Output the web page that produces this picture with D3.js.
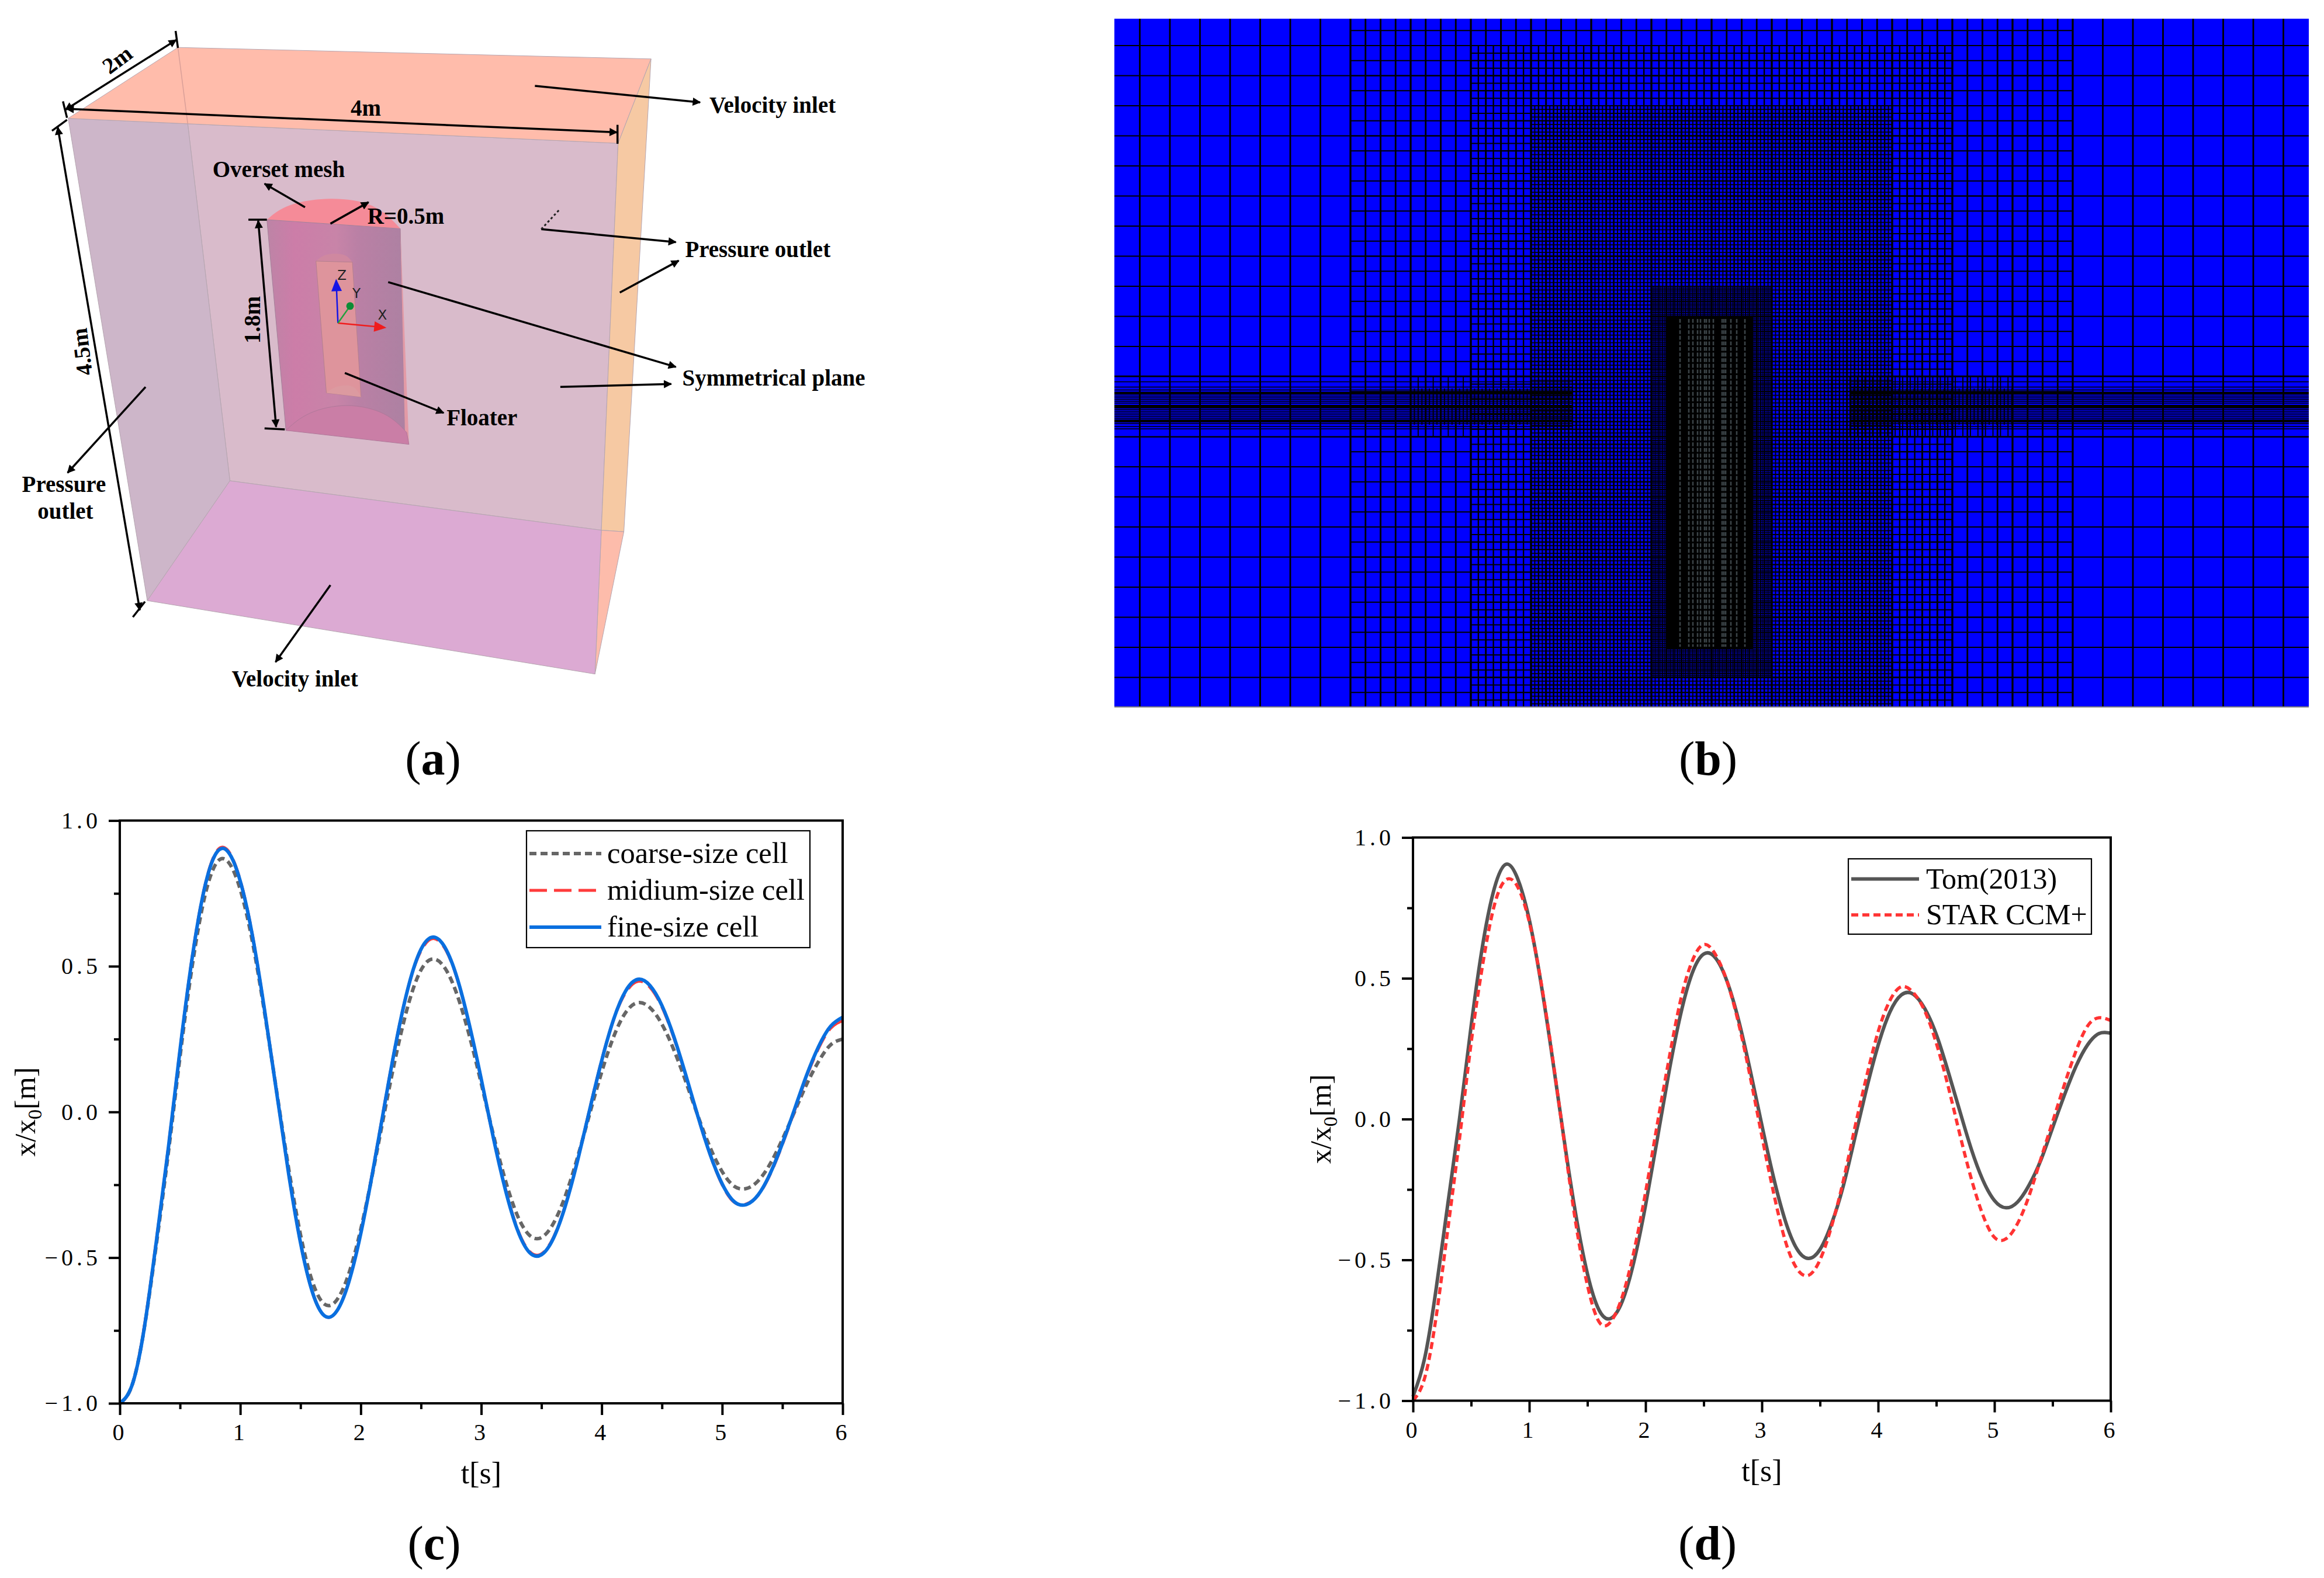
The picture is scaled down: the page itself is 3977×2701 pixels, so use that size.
<!DOCTYPE html>
<html lang="en">
<head>
<meta charset="UTF-8">
<title>Floater free decay: domain, mesh and validation</title>
<script src="https://d3js.org/d3.v7.min.js"></script>
<style>
  html, body { margin: 0; padding: 0; background: #fff; }
  svg { display: block; }
  text { font-family: "Liberation Serif", serif; fill: #000; }
</style>
</head>
<body>
<script>
// time grid shared by all the curves
const times = [0,0.1,0.2,0.3,0.4,0.5,0.6,0.7,0.8,0.9,1,1.1,1.2,1.3,1.4,1.5,1.6,1.7,1.8,1.9,2,2.1,2.2,2.3,2.4,2.5,2.6,2.7,2.8,2.9,3,3.1,3.2,3.3,3.4,3.5,3.6,3.7,3.8,3.9,4,4.1,4.2,4.3,4.4,4.5,4.6,4.7,4.8,4.9,5,5.1,5.2,5.3,5.4,5.5,5.6,5.7,5.8,5.9,6];

// panel (c)
const coarseCell = [-1,-0.94,-0.75,-0.465,-0.15,0.19,0.498,0.73,0.853,0.858,0.763,0.586,0.345,0.076,-0.19,-0.421,-0.584,-0.66,-0.646,-0.556,-0.403,-0.208,0.005,0.208,0.376,0.487,0.525,0.493,0.402,0.264,0.098,-0.077,-0.234,-0.355,-0.423,-0.431,-0.382,-0.286,-0.155,-0.007,0.137,0.259,0.342,0.375,0.358,0.301,0.212,0.102,-0.015,-0.122,-0.205,-0.255,-0.263,-0.236,-0.177,-0.094,0,0.094,0.173,0.23,0.25];
const mediumCell = [-1,-0.94,-0.745,-0.45,-0.13,0.215,0.53,0.765,0.892,0.896,0.795,0.61,0.355,0.074,-0.207,-0.449,-0.62,-0.7,-0.684,-0.583,-0.415,-0.2,0.032,0.255,0.437,0.553,0.595,0.56,0.458,0.3,0.112,-0.087,-0.262,-0.4,-0.478,-0.487,-0.43,-0.318,-0.165,0.01,0.178,0.318,0.41,0.448,0.428,0.36,0.253,0.122,-0.018,-0.147,-0.25,-0.31,-0.316,-0.285,-0.213,-0.112,0.003,0.12,0.218,0.287,0.313];
const fineCell = [-1,-0.94,-0.75,-0.455,-0.134,0.213,0.526,0.762,0.888,0.892,0.792,0.607,0.354,0.072,-0.208,-0.449,-0.62,-0.7,-0.684,-0.585,-0.418,-0.204,0.029,0.253,0.437,0.558,0.6,0.564,0.46,0.302,0.113,-0.087,-0.266,-0.404,-0.482,-0.49,-0.433,-0.32,-0.167,0.007,0.176,0.319,0.416,0.455,0.434,0.365,0.257,0.124,-0.017,-0.146,-0.247,-0.308,-0.318,-0.284,-0.21,-0.108,0.008,0.125,0.224,0.294,0.325];

// panel (d)
const tom2013 = [-0.985,-0.85,-0.6,-0.3,0,0.33,0.62,0.82,0.905,0.854,0.708,0.485,0.214,-0.074,-0.339,-0.549,-0.678,-0.708,-0.647,-0.506,-0.306,-0.073,0.164,0.369,0.517,0.586,0.573,0.49,0.351,0.173,-0.021,-0.206,-0.359,-0.46,-0.495,-0.463,-0.371,-0.238,-0.066,0.107,0.262,0.379,0.441,0.444,0.393,0.301,0.172,0.032,-0.105,-0.216,-0.289,-0.315,-0.294,-0.233,-0.145,-0.031,0.083,0.186,0.263,0.304,0.305];
const starCcm = [-1,-0.92,-0.7,-0.39,-0.07,0.27,0.55,0.76,0.85,0.825,0.7,0.49,0.22,-0.08,-0.37,-0.59,-0.72,-0.72,-0.63,-0.47,-0.26,-0.02,0.21,0.42,0.56,0.62,0.585,0.49,0.34,0.15,-0.06,-0.26,-0.43,-0.53,-0.555,-0.5,-0.38,-0.22,-0.03,0.15,0.31,0.42,0.47,0.45,0.385,0.27,0.12,-0.05,-0.21,-0.34,-0.42,-0.425,-0.37,-0.27,-0.14,-0.01,0.12,0.24,0.33,0.36,0.35];

// axis ticks
const xMajorTicks = [0,1,2,3,4,5,6];
const xMinorTicks = [0.5,1.5,2.5,3.5,4.5,5.5];
const yMajorTicks = [-1,-0.5,0,0.5,1];
const yMinorTicks = [-0.75,-0.25,0.25,0.75];
const yTickLabels = ["\u22121.0","\u22120.5","0.0","0.5","1.0"];

// panel (a) geometry, in schematic units
const topFace = [[118,237],[308,95],[1127,118],[1070,287]];
const rightFace = [[1070,287],[1127,118],[1080,1065],[1041,1062]];
const rightFaceLow = [[1041,1062],[1080,1065],[1030,1350]];
const leftFace = [[118,237],[325,248],[398,963],[255,1203]];
const backFace = [[325,248],[1070,287],[1041,1062],[398,963]];
const floorFace = [[398,963],[1041,1062],[1030,1350],[255,1203]];
const arrowSegments = [
  [113,220,305,80,1],[115,218,1068,265,1],[100,255,242,1222,1],[447,442,478,855,1],
  [572,448,638,405,0],[528,415,458,368,0],[926,172,1212,205,0],[937,459,1170,485,0],
  [1073,586,1175,522,0],[672,565,1170,735,0],[970,775,1162,769,0],[597,747,768,827,0],
  [252,775,117,947,0],[572,1172,477,1326,0]
];
const endBars = [[304,62,308,96],[109,203,116,236],[1069,250,1069,288],[90,262,116,240],[230,1236,251,1205],[430,440,462,440],[458,858,493,860]];
const diagramLabels = [
  ["Velocity inlet",1228,226,0],["4m",607,232,0],["Overset mesh",368,355,0],["R=0.5m",636,448,0],
  ["Pressure outlet",1186,515,0],["Symmetrical plane",1181,772,0],["Floater",773,852,0],
  ["Velocity inlet",401,1375,0],["Pressure",38,985,0],["outlet",65,1039,0],
  ["2m",190,150,-37],["1.8m",450,688,-90],["4.5m",160,750,-97]
];

// panel (b) refinement zones: half width, top, bottom in coarse cells, divisions per cell
const meshZones = [
  [20,-13,10,1],
  [12,-13,10,2],
  [8,-12,10,4],
  [6,-10,10,8],
  [2,-4,9,16]
];
const meshCoreColumns = [175,190,197,205,210,217,220,225,232,247,250,253,262,272,286];
// free surface band, offsets from the water line
const bandLines = [-52.5,-42.5,-33.5,-28.5,-18,-15,-12,-9,-6,5,8,11,14,17,20,29,34,38,52];
const bandBars = [[-25.5,-20.5],[-3,3],[22,27]];

const width = 3977, height = 2701;
const svg = d3.select("body").append("svg").attr("width", width).attr("height", height)
  .attr("viewBox", `0 0 ${width} ${height}`);

const defs = svg.append("defs");
defs.append("marker").attr("id", "head").attr("viewBox", "0 0 10 10").attr("refX", 9).attr("refY", 5)
  .attr("markerUnits", "userSpaceOnUse").attr("markerWidth", 17).attr("markerHeight", 14).attr("orient", "auto-start-reverse")
  .append("path").attr("d", "M0,0L10,5L0,10Z").attr("fill", "#000");

// ---------- panel (a) ----------
const sx = d3.scaleLinear().domain([0, 1568]).range([0, 1550]);
const sy = d3.scaleLinear().domain([0, 1568]).range([0, 1340]);
const pts = p => p.map(d => `${sx(d[0])},${sy(d[1])}`).join(" ");
const a = svg.append("g");

function face(p, fill) {
  a.append("polygon").attr("points", pts(p)).attr("fill", fill).attr("stroke", "#b5a5b0").attr("stroke-width", 1);
}
face(backFace, "#d9bbcb");
face(leftFace, "#cdb6c9");
face(topFace, "#ffbcab");
face(rightFace, "#f6c9a3");
face(rightFaceLow, "#fdbcab");
face(floorFace, "#dcaad3");
a.append("line").attr("x1", sx(308)).attr("y1", sy(95)).attr("x2", sx(325)).attr("y2", sy(248)).attr("stroke", "#d99f98").attr("stroke-width", 1.5);

const bodyGrad = defs.append("linearGradient").attr("id", "bodyGrad");
[[0, "#bd84a6"], [0.2, "#cc7da8"], [0.5, "#c884a8"], [0.66, "#ba80a5"], [1, "#ad81a2"]]
  .forEach(s => bodyGrad.append("stop").attr("offset", s[0]).attr("stop-color", s[1]));

const arcLine = d3.line().x(d => sx(d[0])).y(d => sy(d[1])).curve(d3.curveBasis);
// overset cylinder
a.append("path").attr("fill", "#f58b98")
  .attr("d", arcLine([[462,440],[462,440],[495,408],[570,394],[650,405],[693,458],[693,458]]) + "Z");
a.append("polygon").attr("points", pts([[462,440],[693,458],[701,866],[495,862]])).attr("fill", "url(#bodyGrad)").attr("stroke", "#a5809a").attr("stroke-width", 1);
a.append("polygon").attr("points", pts([[693,458],[701,866],[708,890]])).attr("fill", "#e39aa6");
a.append("path").attr("fill", "#ca7ea6").attr("stroke", "#b0789a").attr("stroke-width", 1)
  .attr("d", arcLine([[495,862],[495,862],[530,825],[600,806],[670,825],[704,866],[704,866]]) + `L${sx(708)},${sy(890)}Z`);
// floater inside it
a.append("path").attr("fill", "#cf88a0").attr("d", arcLine([[547,523],[547,523],[560,510],[580,507],[600,510],[610,525],[610,525]]) + "Z");
a.append("polygon").attr("points", pts([[547,523],[610,525],[625,795],[565,787]])).attr("fill", "#de949c").attr("stroke", "#b5808f").attr("stroke-width", 1);
a.append("path").attr("fill", "#dc9aa0").attr("d", arcLine([[565,787],[565,787],[578,775],[600,770],[616,775],[625,795],[625,795]]) + "Z");

// body axes
function axisArrow(p, color) {
  const ang = Math.atan2(sy(p[3]) - sy(p[1]), sx(p[2]) - sx(p[0])) * 180 / Math.PI;
  a.append("line").attr("x1", sx(p[0])).attr("y1", sy(p[1])).attr("x2", sx(p[2])).attr("y2", sy(p[3])).attr("stroke", color).attr("stroke-width", 2.5);
  a.append("path").attr("d", "M-18,-9L3,0L-18,9Z").attr("fill", color)
    .attr("transform", `translate(${sx(p[2])},${sy(p[3])}) rotate(${ang})`);
}
axisArrow([585,647,582,562], "#1414e6");
axisArrow([585,647,666,656], "#f01c1c");
a.append("line").attr("x1", sx(585)).attr("y1", sy(647)).attr("x2", sx(606)).attr("y2", sy(613)).attr("stroke", "#22a03c").attr("stroke-width", 2.5);
a.append("circle").attr("cx", sx(606)).attr("cy", sy(613)).attr("r", 6.5).attr("fill", "#0c8c36");
[["Z",584,560],["Y",610,597],["X",654,640]].forEach(d => {
  a.append("text").attr("x", sx(d[1])).attr("y", sy(d[2])).attr("font-size", 23)
    .style("font-family", "'DejaVu Sans', sans-serif").style("fill", "#222").text(d[0]);
});

// dimension lines and leaders
arrowSegments.forEach(d => {
  const l = a.append("line").attr("x1", sx(d[0])).attr("y1", sy(d[1])).attr("x2", sx(d[2])).attr("y2", sy(d[3]))
    .attr("stroke", "#000").attr("stroke-width", 3.5).attr("marker-end", "url(#head)");
  if (d[4]) l.attr("marker-start", "url(#head)");
});
endBars.forEach(d => {
  a.append("line").attr("x1", sx(d[0])).attr("y1", sy(d[1])).attr("x2", sx(d[2])).attr("y2", sy(d[3]))
    .attr("stroke", "#000").attr("stroke-width", 3.5);
});
a.append("line").attr("x1", sx(937)).attr("y1", sy(459)).attr("x2", sx(970)).attr("y2", sy(418))
  .attr("stroke", "#222").attr("stroke-width", 3).attr("stroke-dasharray", "4,4");
diagramLabels.forEach(d => {
  a.append("text").attr("font-size", 39).attr("font-weight", "bold")
    .attr("transform", `translate(${sx(d[1])},${sy(d[2])}) rotate(${d[3]})`).text(d[0]);
});

// ---------- panel (b) ----------
const meshX0 = 1907, meshX1 = 3951, meshY0 = 32, meshY1 = 1211;
const meshCell = 51.5, meshCx = 2929, meshCy = 696;
const mx = d3.scaleLinear().domain([-1, 1]).range([meshCx - meshCell, meshCx + meshCell]);
const my = d3.scaleLinear().domain([-1, 1]).range([meshCy - meshCell, meshCy + meshCell]);

defs.append("clipPath").attr("id", "meshClip").append("rect")
  .attr("x", meshX0).attr("y", meshY0).attr("width", meshX1 - meshX0).attr("height", meshY1 - meshY0);
const b = svg.append("g").attr("clip-path", "url(#meshClip)");
b.append("rect").attr("x", meshX0).attr("y", meshY0).attr("width", meshX1 - meshX0).attr("height", meshY1 - meshY0).attr("fill", "#0000ff");

const zoneWidths = [[2.8, 2.2], [2.8, 2.2], [2.4, 2], [1.9, 1.7], [1.2, 1.2]];
meshZones.forEach((z, i) => {
  const [half, top, bottom, div] = z;
  let dv = "", dh = "";
  d3.range(-half * div, half * div + 1).forEach(k => {
    dv += `M${mx(k / div)},${my(top)}V${my(bottom)}`;
  });
  d3.range(top * div, bottom * div + 1).forEach(k => {
    dh += `M${mx(-half)},${my(k / div)}H${mx(half)}`;
  });
  b.append("path").attr("d", dv).attr("fill", "none").attr("stroke", "#000").attr("stroke-width", zoneWidths[i][0]);
  b.append("path").attr("d", dh).attr("fill", "none").attr("stroke", "#000").attr("stroke-width", zoneWidths[i][1]);
});

// free surface refinement on both sides of the centre
[[-20, -4.6], [4.6, 20]].forEach(side => {
  const x1 = mx(side[0]), x2 = mx(side[1]);
  let d = "";
  bandLines.forEach(k => { d += `M${x1},${meshCy + k}H${x2}`; });
  b.append("path").attr("d", d).attr("fill", "none").attr("stroke", "#000").attr("stroke-width", 1.6);
  bandBars.forEach(k => {
    b.append("rect").attr("x", x1).attr("width", x2 - x1).attr("y", meshCy + k[0]).attr("height", k[1] - k[0]).attr("fill", "#000");
  });
  // vertical lines of the band
  const near = side[0] < 0 ? side[1] : side[0];
  const far = side[0] < 0 ? -10 : 10;
  let dv = "";
  d3.range(Math.min(near, far), Math.max(near, far) + 0.001, 1 / 8).forEach(k => { dv += `M${mx(k)},${my(-0.6)}V${my(0.6)}`; });
  d3.range(Math.min(near, far), Math.max(near, far) + 0.001, 1 / 4).forEach(k => { dv += `M${mx(k)},${my(-1)}V${my(1)}`; });
  b.append("path").attr("d", dv).attr("fill", "none").attr("stroke", "#000").attr("stroke-width", 1.9);
});

// floater core, near black, with a faint lattice
b.append("rect").attr("x", 2853).attr("y", 542).attr("width", 147).attr("height", 569).attr("fill", "#000");
b.append("g").selectAll("line").data(meshCoreColumns).join("line")
  .attr("x1", d => 2700 + d).attr("x2", d => 2700 + d).attr("y1", 546).attr("y2", 1107)
  .attr("stroke", "#3b4347").attr("stroke-width", 2.6).attr("stroke-dasharray", "6.6,3");
b.append("rect").attr("x", meshX0).attr("y", meshY1 - 2).attr("width", meshX1 - meshX0).attr("height", 2).attr("fill", "#7a7a86");

// ---------- panels (c) and (d) ----------
function drawPlot(opt) {
  const x = d3.scaleLinear().domain([0, 6]).range([opt.left, opt.right]);
  const y = d3.scaleLinear().domain([-1, 1]).range([opt.bottom, opt.top]);
  const g = svg.append("g");

  opt.series.forEach(s => {
    g.append("path")
      .attr("d", d3.line().x((d, i) => x(times[i])).y(d => y(d)).curve(d3.curveNatural)(s.values))
      .attr("fill", "none").attr("stroke", s.color).attr("stroke-width", s.width)
      .attr("stroke-dasharray", s.dash).attr("stroke-linejoin", "round");
  });

  g.append("rect").attr("x", opt.left).attr("y", opt.top)
    .attr("width", opt.right - opt.left).attr("height", opt.bottom - opt.top)
    .attr("fill", "none").attr("stroke", "#000").attr("stroke-width", 4);

  // major ticks with labels, then a second axis for the minor ones
  const xAxis = g.append("g").attr("transform", `translate(0,${opt.bottom})`)
    .call(d3.axisBottom(x).tickValues(xMajorTicks).tickSize(20).tickPadding(15).tickFormat(d3.format("d")));
  const xMinor = g.append("g").attr("transform", `translate(0,${opt.bottom})`)
    .call(d3.axisBottom(x).tickValues(xMinorTicks).tickSize(10).tickFormat(""));
  const yAxis = g.append("g").attr("transform", `translate(${opt.left},0)`)
    .call(d3.axisLeft(y).tickValues(yMajorTicks).tickSize(19).tickPadding(13).tickFormat((d, i) => yTickLabels[i]));
  const yMinor = g.append("g").attr("transform", `translate(${opt.left},0)`)
    .call(d3.axisLeft(y).tickValues(yMinorTicks).tickSize(10).tickFormat(""));
  [xAxis, xMinor, yAxis, yMinor].forEach(ax => {
    ax.select(".domain").remove();
    ax.selectAll("line").attr("stroke", "#000").attr("stroke-width", 4);
    ax.selectAll("text").attr("font-size", 40).style("font-family", "'Liberation Serif', serif")
      .attr("letter-spacing", 6).attr("fill", "#000");
  });

  g.append("text").attr("x", (opt.left + opt.right) / 2).attr("y", opt.bottom + 137)
    .attr("text-anchor", "middle").attr("font-size", 52).text("t[s]");
  const yt = g.append("text").attr("text-anchor", "middle").attr("font-size", 50)
    .attr("transform", `translate(${opt.yTitleX},${(opt.top + opt.bottom) / 2}) rotate(-90)`);
  yt.append("tspan").text("x/x");
  yt.append("tspan").attr("font-size", 34).attr("dy", 11).text("0");
  yt.append("tspan").attr("dy", -11).text("[m]");

  // legend
  const lg = opt.legend;
  g.append("rect").attr("x", lg.x).attr("y", lg.y).attr("width", lg.w).attr("height", lg.h)
    .attr("fill", "#fff").attr("stroke", "#000").attr("stroke-width", 2.2);
  opt.series.forEach((s, i) => {
    const cy = lg.firstRow + i * lg.rowStep;
    g.append("line").attr("x1", lg.sampleX).attr("x2", lg.sampleX + lg.sampleW).attr("y1", cy).attr("y2", cy)
      .attr("stroke", s.color).attr("stroke-width", s.width).attr("stroke-dasharray", s.dash);
    g.append("text").attr("x", lg.textX).attr("y", cy + 16).attr("font-size", lg.fontSize).text(s.name);
  });
}

drawPlot({
  left: 205, right: 1442, top: 1404.5, bottom: 2402, yTitleX: 60,
  series: [
    { name: "coarse-size cell", values: coarseCell, color: "#666666", width: 6, dash: "12,7" },
    { name: "midium-size cell", values: mediumCell, color: "#ff3b3b", width: 5, dash: "30,12" },
    { name: "fine-size cell", values: fineCell, color: "#0a6fdf", width: 6, dash: null }
  ],
  legend: { x: 901, y: 1422, w: 485, h: 200, firstRow: 1461, rowStep: 63, sampleX: 906, sampleW: 123, textX: 1039, fontSize: 50.5 }
});

drawPlot({
  left: 2418, right: 3612, top: 1433.5, bottom: 2397.5, yTitleX: 2277,
  series: [
    { name: "Tom(2013)", values: tom2013, color: "#555555", width: 6, dash: null },
    { name: "STAR CCM+", values: starCcm, color: "#ff3333", width: 5.5, dash: "12,7" }
  ],
  legend: { x: 3163, y: 1470, w: 416, h: 129, firstRow: 1504.5, rowStep: 61.5, sampleX: 3168, sampleW: 116, textX: 3296, fontSize: 50 }
});

// ---------- sub-figure captions ----------
[["a", 741, 1326], ["b", 2923, 1326], ["c", 743, 2669], ["d", 2922, 2669]].forEach(d => {
  const t = svg.append("text").attr("x", d[1]).attr("y", d[2]).attr("text-anchor", "middle").attr("font-size", 82);
  t.append("tspan").text("(");
  t.append("tspan").attr("font-weight", "bold").text(d[0]);
  t.append("tspan").text(")");
});
</script>
</body>
</html>
